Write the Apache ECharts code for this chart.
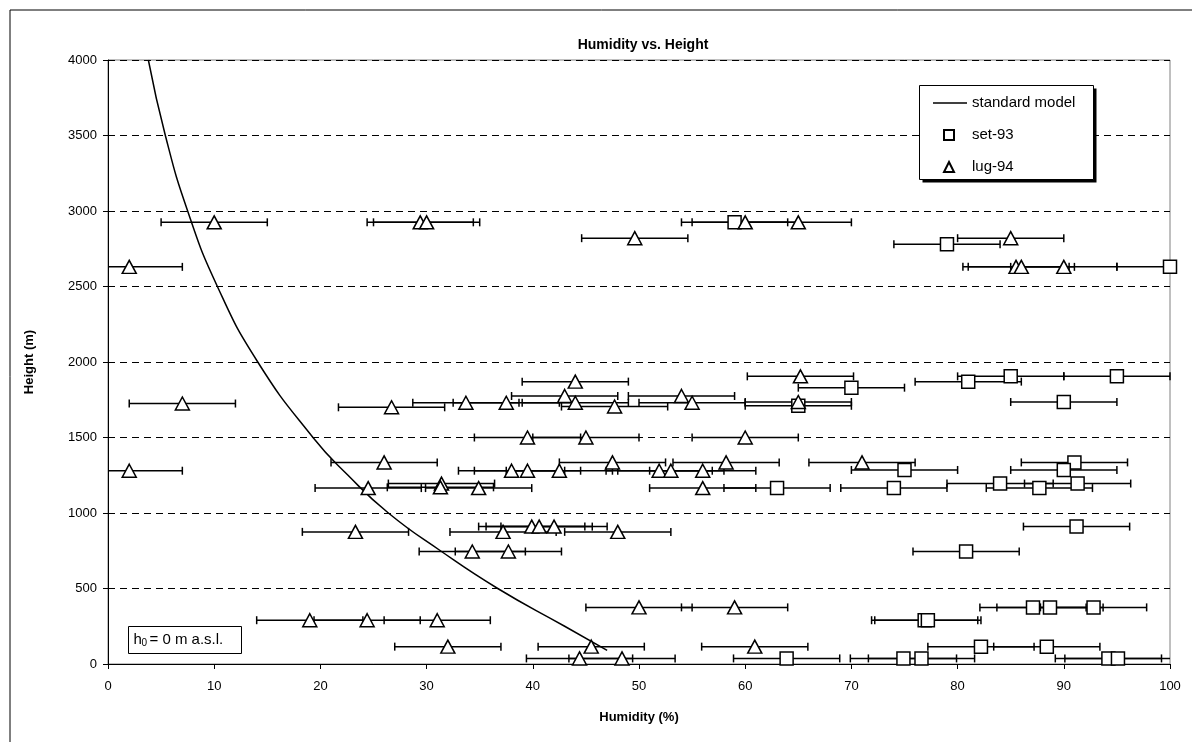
<!DOCTYPE html>
<html>
<head>
<meta charset="utf-8">
<title>Humidity vs. Height</title>
<script src="https://cdn.jsdelivr.net/npm/echarts@6/dist/echarts.min.js"></script>
<style>
  html, body { margin: 0; padding: 0; background: #fff; }
  #chart { width: 1192px; height: 742px; }
</style>
</head>
<body>
<div id="chart"></div>
<script>
  // fixed half-width of the horizontal error bars (humidity %)
  var errHalf = 5

  // set-93 soundings: [humidity %, height m]
  var set93 = [
    [59, 2925], [79, 2780], [100, 2630],
    [70, 1830], [81, 1870], [85, 1905], [95, 1905], [90, 1735], [65, 1710],
    [91, 1335], [75, 1285], [90, 1285],
    [63, 1165], [74, 1165], [84, 1195], [87.7, 1165], [91.3, 1195],
    [91.2, 910], [80.8, 745],
    [87.1, 375], [88.7, 375], [92.8, 375], [76.9, 290], [77.2, 290],
    [82.2, 115], [88.4, 115],
    [63.9, 37], [74.9, 37], [76.6, 37], [94.2, 37], [95.1, 37]
  ]

  // lug-94 soundings: [humidity %, height m]
  var lug94 = [
    [10, 2925], [29.4, 2925], [30, 2925], [60, 2925], [65, 2925],
    [49.6, 2820], [85, 2820],
    [2, 2630], [85.5, 2630], [86, 2630], [90, 2630],
    [44, 1870], [65.2, 1905], [43, 1775], [54, 1775],
    [37.5, 1730], [44, 1730], [47.7, 1705], [55, 1730], [65, 1735],
    [7, 1725], [26.7, 1700], [33.7, 1730],
    [39.5, 1500], [45, 1500], [60, 1500],
    [26, 1335], [47.5, 1335], [58.2, 1335], [71, 1335],
    [2, 1280], [38, 1280], [39.5, 1280], [42.5, 1280], [51.9, 1280], [53, 1280], [56, 1280],
    [24.5, 1165], [31.4, 1195], [31.3, 1170], [34.9, 1165], [56, 1165],
    [39.9, 910], [40.6, 910], [42, 910], [48, 875], [37.2, 875], [23.3, 875],
    [34.3, 745], [37.7, 745],
    [50, 375], [59, 375],
    [19, 290], [24.4, 290], [31, 290],
    [32, 115], [45.5, 115], [60.9, 115],
    [44.4, 37], [48.4, 37]
  ]

  // standard model curve
  var modelHeight = [90, 250, 500, 750, 1000, 1250, 1500, 2000, 2500, 3000, 3500, 4000]
  var modelHumidity = [47.0, 43.0, 36.7, 31.3, 26.4, 22.6, 19.3, 14.1, 10.3, 7.5, 5.4, 3.8]

  var xTicks = { min: 0, max: 100, interval: 10 }
  var yTicks = { min: 0, max: 4000, interval: 500 }

  var font = 'Liberation Sans, Arial, sans-serif'

  var modelData = modelHeight.map(function (h, i) { return [modelHumidity[i], h] })

  function errorBars (params, api) {
    var x = api.value(0)
    var y = api.value(1)
    var lo = Math.max(x - errHalf, xTicks.min)
    var hi = Math.min(x + errHalf, xTicks.max)
    var p1 = api.coord([lo, y])
    var p2 = api.coord([hi, y])
    var cap = 4
    var style = { stroke: '#000', lineWidth: 1.5 }
    var kids = [{ type: 'line', shape: { x1: p1[0], y1: p1[1], x2: p2[0], y2: p2[1] }, style: style }]
    if (lo === x - errHalf) {
      kids.push({ type: 'line', shape: { x1: p1[0], y1: p1[1] - cap, x2: p1[0], y2: p1[1] + cap }, style: style })
    }
    if (hi === x + errHalf) {
      kids.push({ type: 'line', shape: { x1: p2[0], y1: p2[1] - cap, x2: p2[0], y2: p2[1] + cap }, style: style })
    }
    return { type: 'group', children: kids }
  }

  var legendText = { fontFamily: font, fontSize: 15, lineHeight: 16, color: '#000' }

  var chart = echarts.init(document.getElementById('chart'))
  chart.setOption({
    animation: false,
    textStyle: { fontFamily: font, color: '#000' },
    title: {
      text: 'Humidity vs. Height',
      left: 638,
      textAlign: 'center',
      top: 33,
      textStyle: { fontFamily: font, fontSize: 14, fontWeight: 'bold', color: '#000' }
    },
    legend: [
      { // line entry
        orient: 'vertical',
        left: 933,
        top: 95,
        padding: 0,
        z: 6,
        data: [{ name: 'standard model', icon: 'rect' }],
        itemWidth: 34,
        itemHeight: 1.5,
        selectedMode: false,
        textStyle: legendText
      },
      { // marker entries
        orient: 'vertical',
        left: 943,
        top: 127,
        padding: 0,
        z: 6,
        data: ['set-93', 'lug-94'],
        itemWidth: 10,
        itemHeight: 10,
        itemGap: 16,
        selectedMode: false,
        textStyle: Object.assign({}, legendText, { padding: [0, 0, 0, 13] })
      }
    ],
    grid: {
      left: 108,
      right: 22,
      top: 60,
      bottom: 78,
      show: true,
      borderColor: '#808080',
      borderWidth: 1
    },
    xAxis: {
      type: 'value',
      min: xTicks.min,
      max: xTicks.max,
      interval: xTicks.interval,
      name: 'Humidity (%)',
      nameLocation: 'middle',
      nameGap: 47,
      nameTextStyle: { fontFamily: font, fontSize: 13, fontWeight: 'bold', color: '#000' },
      axisLine: { lineStyle: { color: '#000', width: 1 } },
      axisTick: { length: 5, lineStyle: { color: '#000' } },
      axisLabel: { fontFamily: font, fontSize: 13, color: '#000', margin: 16 },
      splitLine: { show: false }
    },
    yAxis: {
      type: 'value',
      min: yTicks.min,
      max: yTicks.max,
      interval: yTicks.interval,
      name: 'Height (m)',
      nameLocation: 'middle',
      nameGap: 72,
      nameRotate: 90,
      nameTextStyle: { fontFamily: font, fontSize: 13, fontWeight: 'bold', color: '#000' },
      axisLine: { show: true, lineStyle: { color: '#000', width: 1 } },
      axisTick: { show: true, length: 5, lineStyle: { color: '#000' } },
      axisLabel: {
        fontFamily: font, fontSize: 13, color: '#000', margin: 11,
        formatter: function (v) { return String(v) }
      },
      splitLine: { show: true, lineStyle: { color: '#000', type: [7, 5], width: 1 } }
    },
    graphic: [
      { // outer chart frame
        type: 'rect',
        shape: { x: 10, y: 10, width: 1200, height: 800 },
        style: { fill: 'none', stroke: '#000', lineWidth: 1 },
        silent: true
      },
      { // legend box with hard shadow
        type: 'group',
        left: 919,
        top: 85,
        silent: true,
        children: [
          { type: 'rect', z: 5, shape: { x: 3, y: 3, width: 174, height: 94 }, style: { fill: '#000' } },
          { type: 'rect', z: 5, shape: { x: 0, y: 0, width: 174, height: 94 }, style: { fill: '#fff', stroke: '#000', lineWidth: 1 } }
        ]
      },
      {
        type: 'group',
        left: 128,
        top: 626,
        children: [
          { type: 'rect', z: 5, shape: { x: 0, y: 0, width: 113, height: 27 }, style: { fill: '#fff', stroke: '#000', lineWidth: 1 } },
          { type: 'text', z: 6, x: 5, y: 6, style: { text: 'h', font: '15px ' + font, fill: '#000' } },
          { type: 'text', z: 6, x: 13, y: 12, style: { text: '0', font: '10px ' + font, fill: '#000' } },
          { type: 'text', z: 6, x: 21, y: 6, style: { text: '= 0 m a.s.l.', font: '15px ' + font, fill: '#000' } }
        ]
      }
    ],
    series: [
      {
        name: 'set-93 err',
        type: 'custom',
        renderItem: errorBars,
        data: set93,
        z: 2,
        silent: true
      },
      {
        name: 'lug-94 err',
        type: 'custom',
        renderItem: errorBars,
        data: lug94,
        z: 2,
        silent: true
      },
      {
        name: 'standard model',
        type: 'line',
        data: modelData,
        smooth: true,
        symbol: 'none',
        showSymbol: false,
        lineStyle: { color: '#000', width: 1.5 },
        itemStyle: { color: '#000' },
        z: 3
      },
      {
        name: 'set-93',
        type: 'scatter',
        data: set93,
        symbol: 'rect',
        symbolSize: 13,
        itemStyle: { color: '#fff', borderColor: '#000', borderWidth: 1.5, opacity: 1 },
        z: 4
      },
      {
        name: 'lug-94',
        type: 'scatter',
        data: lug94,
        symbol: 'triangle',
        symbolSize: [14, 13],
        itemStyle: { color: '#fff', borderColor: '#000', borderWidth: 1.5, opacity: 1 },
        z: 4
      }
    ]
  })
</script>
</body>
</html>
